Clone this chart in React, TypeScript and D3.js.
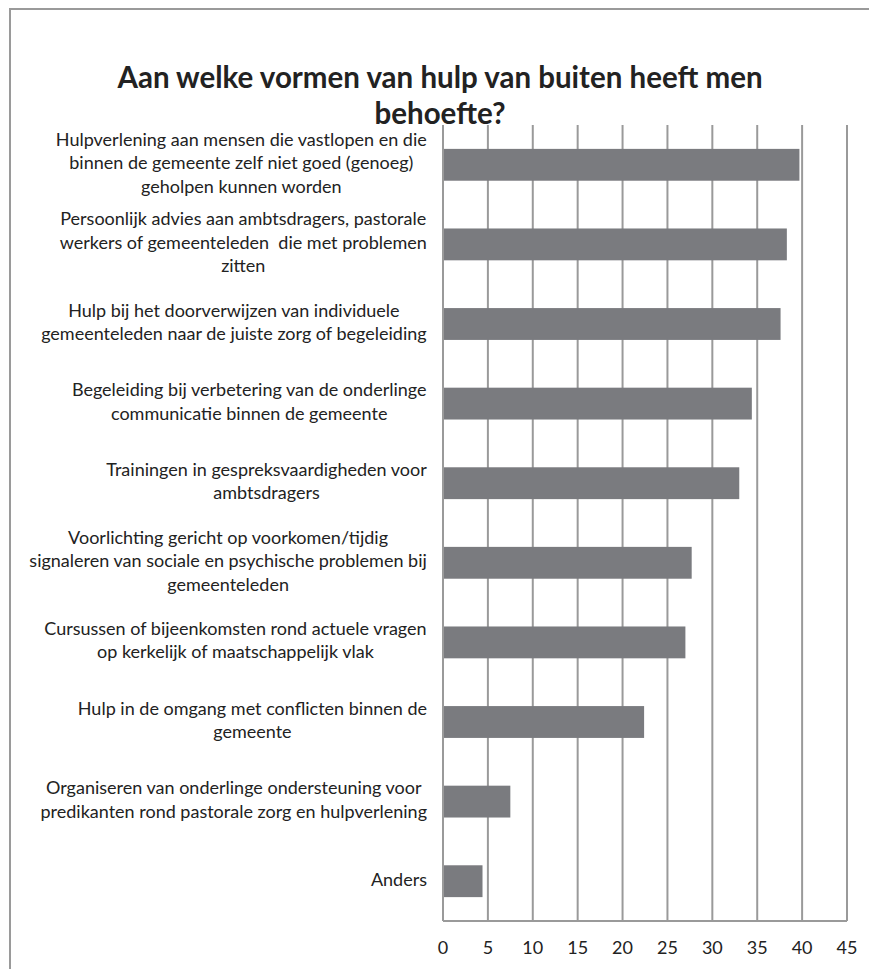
import React from "react";
import * as d3 from "d3";

const TITLE_LINES = ["Aan welke vormen van hulp van buiten heeft men", "behoefte?"];

const CATEGORY_LINES: string[][] = [
  ["Hulpverlening aan mensen die vastlopen en die", "binnen de gemeente zelf niet goed (genoeg)", "geholpen kunnen worden"],
  ["Persoonlijk advies aan ambtsdragers, pastorale", "werkers of gemeenteleden  die met problemen", "zitten"],
  ["Hulp bij het doorverwijzen van individuele", "gemeenteleden naar de juiste zorg of begeleiding"],
  ["Begeleiding bij verbetering van de onderlinge", "communicatie binnen de gemeente"],
  ["Trainingen in gespreksvaardigheden voor", "ambtsdragers"],
  ["Voorlichting gericht op voorkomen/tijdig", "signaleren van sociale en psychische problemen bij", "gemeenteleden"],
  ["Cursussen of bijeenkomsten rond actuele vragen", "op kerkelijk of maatschappelijk vlak"],
  ["Hulp in de omgang met conflicten binnen de", "gemeente"],
  ["Organiseren van onderlinge ondersteuning voor", "predikanten rond pastorale zorg en hulpverlening"],
  ["Anders"],
];

const VALUES = [39.7, 38.3, 37.6, 34.4, 33.0, 27.7, 27.0, 22.4, 7.5, 4.4];

const X_TICKS = [0, 5, 10, 15, 20, 25, 30, 35, 40, 45];

const W = 869;
const H = 969;
const LABEL_FONT = "Lato, 'Open Sans', sans-serif";
const LABEL_SIZE = 18;
const LINE_H = 23.5;

function measure(text: string, font: string): number {
  const c = document.createElement("canvas");
  const ctx = c.getContext("2d");
  if (!ctx) return text.length * 8;
  ctx.font = font;
  return ctx.measureText(text).width;
}

export default function App() {
  const plotLeft = 443;
  const plotRight = 847;
  const plotTop = 125;
  const plotBottom = 921;

  const x = d3.scaleLinear().domain([0, 45]).range([plotLeft, plotRight]);
  const y = d3
    .scaleBand<number>()
    .domain(VALUES.map((_, i) => i))
    .range([plotTop, plotBottom])
    .paddingInner(0.6)
    .paddingOuter(0.3);

  const labelRight = 427;
  const gridColor = "#9a9a9a";
  const textColor = "#222222";

  return (
    <svg
      width={W}
      height={H}
      style={{ display: "block", background: "#fff", position: "fixed", left: 0, top: 0 }}
    >
      <line x1={10} x2={W} y1={9} y2={9} stroke="#9a9a9a" strokeWidth={2} />
      <line x1={10} x2={10} y1={8} y2={H} stroke="#9a9a9a" strokeWidth={2} />
      {TITLE_LINES.map((t, i) => (
        <text
          key={i}
          x={440}
          y={88 + i * 35.5}
          textAnchor="middle"
          fontFamily={LABEL_FONT}
          fontWeight="bold"
          fontSize={29.5}
          fill={textColor}
        >
          {t}
        </text>
      ))}
      {X_TICKS.map((t) => (
        <line key={t} x1={x(t)} x2={x(t)} y1={plotTop} y2={plotBottom} stroke={gridColor} strokeWidth={2} />
      ))}
      <line x1={x(0)} x2={x(45)} y1={plotBottom} y2={plotBottom} stroke={gridColor} strokeWidth={2} />
      {VALUES.map((v, i) => (
        <rect key={i} x={x(0) + 1} y={y(i)} width={x(v) - x(0) - 1} height={y.bandwidth()} fill="#7a7b7f" />
      ))}
      {X_TICKS.map((t) => (
        <text
          key={"l" + t}
          x={x(t)}
          y={954}
          textAnchor="middle"
          fontFamily={LABEL_FONT}
          fontSize={18}
          fill={textColor}
        >
          {t}
        </text>
      ))}
      {CATEGORY_LINES.map((lines, i) => {
        const font = `${LABEL_SIZE}px Lato`;
        const maxW = Math.max(...lines.map((l) => measure(l, font)));
        const cx = labelRight - maxW / 2;
        const cy = (y(i) as number) + y.bandwidth() / 2 - 2;
        const startY = cy - ((lines.length - 1) * LINE_H) / 2;
        return lines.map((l, j) => (
          <text
            key={i + "-" + j}
            x={cx}
            y={startY + j * LINE_H}
            dy="0.35em"
            textAnchor="middle"
            fontFamily={LABEL_FONT}
            fontSize={LABEL_SIZE}
            fill={textColor}
            style={{ whiteSpace: "pre" }}
          >
            {l}
          </text>
        ));
      })}
    </svg>
  );
}
